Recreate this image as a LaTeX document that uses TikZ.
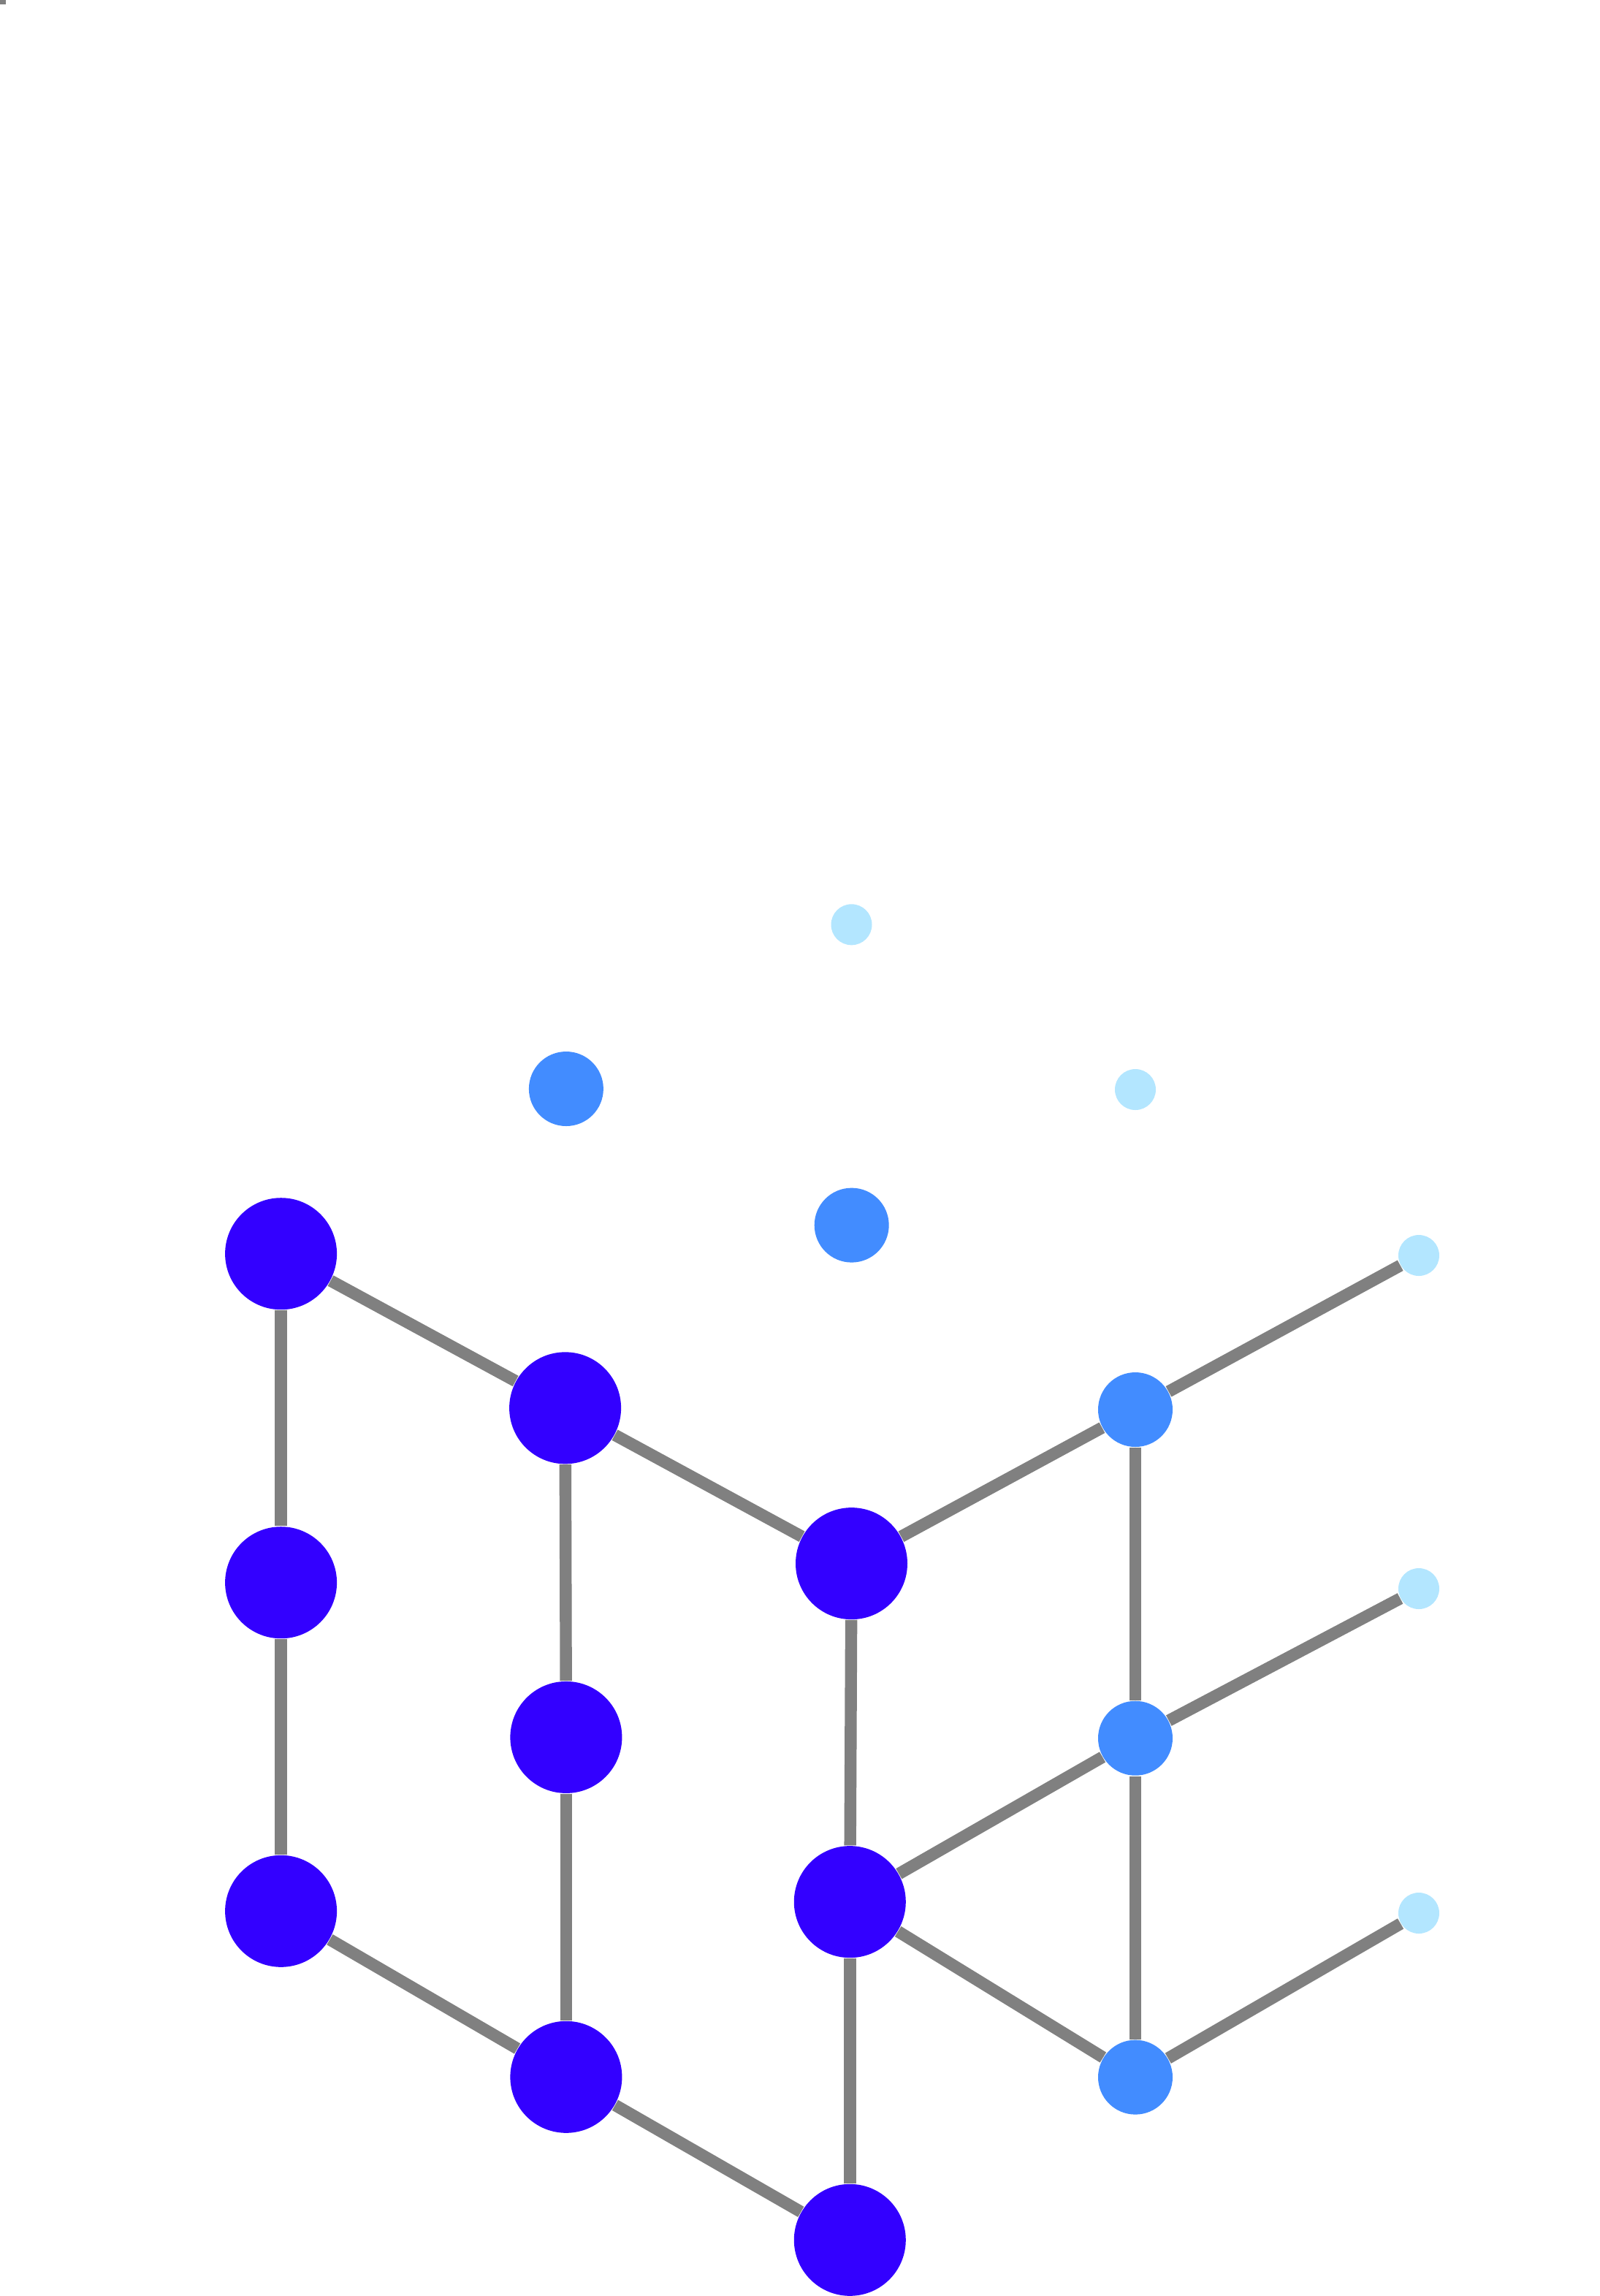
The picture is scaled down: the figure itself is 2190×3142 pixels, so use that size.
\documentclass[tikz,border=0pt]{standalone}
\definecolor{deepblue}{HTML}{3300FF}
\definecolor{midblue}{HTML}{428CFF}
\definecolor{paleblue}{HTML}{B3E6FF}
\begin{document}
\begin{tikzpicture}[
x=0.25pt, y=-0.25pt,
bulk/.style={circle, fill=deepblue, inner sep=0pt, minimum size=38.25pt},
surface/.style={circle, fill=midblue, inner sep=0pt, minimum size=25.5pt},
adatom/.style={circle, fill=paleblue, inner sep=0pt, minimum size=14pt},
bond/.style={draw=gray, line width=4.1pt},
]
\useasboundingbox (0,0) rectangle (2190,3142);
\fill[gray] (0,0) rectangle (8,6);
\node[adatom] (L1) at (1165.5,1265.3) {};
\node[adatom] (L2) at (1554,1491) {};
\node[surface] (M1) at (774.9,1490) {};
\node[surface] (M2) at (1165.7,1676.6) {};
\node[bulk] (A1) at (384.6,1715.7) {};
\node[bulk] (A2) at (384.6,2165.7) {};
\node[bulk] (A3) at (384.6,2615.3) {};
\node[bulk] (B1) at (773.6,1926.8) {};
\node[bulk] (B2) at (774.9,2377.4) {};
\node[bulk] (B3) at (774.9,2842.3) {};
\node[bulk] (C1) at (1165.5,2139.6) {};
\node[bulk] (C2) at (1163.3,2602.6) {};
\node[bulk] (C3) at (1163.3,3065.3) {};
\node[surface] (D1) at (1554,1929) {};
\node[surface] (D2) at (1554,2378.7) {};
\node[surface] (D3) at (1554,2842.6) {};
\node[adatom] (E1) at (1942,1718) {};
\node[adatom] (E2) at (1942,2174) {};
\node[adatom] (E3) at (1942,2618) {};
\draw[bond] (A1) -- (B1);
\draw[bond] (B1) -- (C1);
\draw[bond] (C1) -- (D1);
\draw[bond] (D1) -- (E1);
\draw[bond] (A1) -- (A2);
\draw[bond] (A2) -- (A3);
\draw[bond] (B1) -- (B2);
\draw[bond] (B2) -- (B3);
\draw[bond] (C1) -- (C2);
\draw[bond] (C2) -- (C3);
\draw[bond] (D1) -- (D2);
\draw[bond] (D2) -- (D3);
\draw[bond] (A3) -- (B3);
\draw[bond] (B3) -- (C3);
\draw[bond] (C2) -- (D2);
\draw[bond] (C2) -- (D3);
\draw[bond] (D2) -- (E2);
\draw[bond] (D3) -- (E3);
\end{tikzpicture}
\end{document}
